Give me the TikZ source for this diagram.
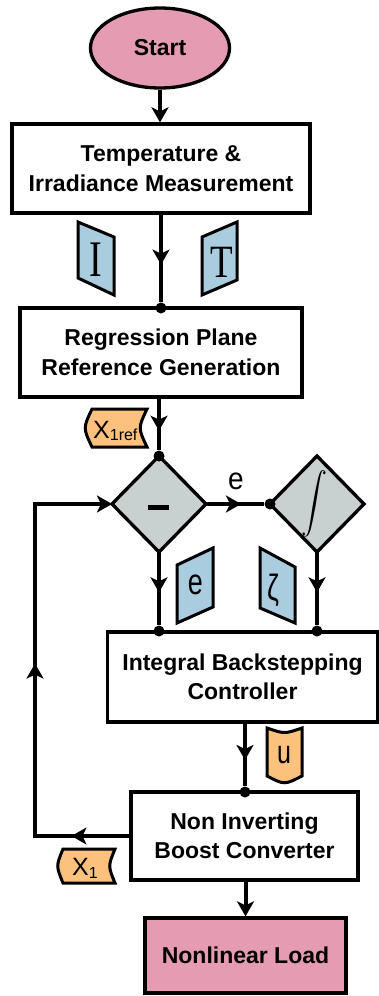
\documentclass[tikz,border=0pt]{standalone}
\usepackage{fontspec}
\setmainfont{Liberation Sans}
\newfontfamily\serifT{Liberation Serif}
\usetikzlibrary{shapes.geometric,arrows.meta,decorations.markings}
\definecolor{pinkc}{HTML}{E59BB1}
\definecolor{bluec}{HTML}{A9CCDE}
\definecolor{orangec}{HTML}{FBC17D}
\definecolor{grayc}{HTML}{C9D0D0}
\tikzset{
  tipA/.tip={Stealth[length=15pt,width=17pt,inset=4pt]},
  box/.style={draw, line width=3.3pt, fill=white, align=center, inner sep=0,
    font=\bfseries\fontsize{23}{29.5}\selectfont},
  conn/.style={line width=4pt},
  midarrow/.style={postaction={decorate,decoration={markings,
    mark=at position #1 with {\arrow{tipA}}}}},
  dotc/.style={circle, fill=black, inner sep=0, minimum size=11pt},
  tagblue/.style={draw, line width=3pt, fill=bluec, line join=miter},
  tagorange/.style={draw, line width=3pt, fill=orangec, line join=miter},
  dia/.style={diamond, draw, fill=grayc, line width=3.3pt, inner sep=0, outer sep=0,
    minimum width=94pt, minimum height=96pt},
}
\begin{document}
\begin{tikzpicture}[x=1pt,y=-1pt]
\useasboundingbox (0,0) rectangle (379,996);
% nodes
\node[ellipse, draw, fill=pinkc, line width=3.3pt, minimum width=139pt, minimum height=80pt,
  inner sep=0, font=\bfseries\fontsize{23}{28}\selectfont] (start) at (160,48) {Start};
\node[box, minimum width=298pt, minimum height=89pt] (box1) at (161,168.5)
  {Temperature \&\\Irradiance Measurement};
\node[box, minimum width=282pt, minimum height=89pt] (box2) at (161,352.5)
  {Regression Plane\\Reference Generation};
\node[dia] (d1) at (159,504) {};
\node[dia] (d2) at (317,504) {};
\node[fill=black, minimum width=21pt, minimum height=5pt, inner sep=0] (minus) at (158,507) {};
\node[inner sep=0] (intg) at (314,504) {\scalebox{2.6}[3]{$\displaystyle\int$}};
\node[box, minimum width=270pt, minimum height=90pt] (box3) at (242.5,677)
  {Integral Backstepping\\Controller};
\node[box, minimum width=227pt, minimum height=88pt] (box4) at (244.5,836)
  {Non Inverting\\Boost Converter};
\node[box, fill=pinkc, minimum width=201pt, minimum height=75pt] (box5) at (245.5,955.5)
  {Nonlinear Load};
% dots
\node[dotc] (dA) at (161,308) {};
\node[dotc] (dB) at (159,456) {};
\node[dotc] (dC) at (270,504) {};
\node[dotc] (dD) at (159,631) {};
\node[dotc] (dE) at (317,631) {};
\node[dotc] (dF) at (245,792) {};
\coordinate (fb1) at (35,836);
\coordinate (fb2) at (35,504);
% connectors
\draw[conn,-tipA] (start.south) -- (start.south |- box1.north);
\draw[conn,midarrow=0.57] (box1.south -| dA) -- (dA);
\draw[conn,midarrow=0.62] (box2.south -| dB) -- (dB);
\draw[conn,midarrow=0.6] (d1.east) -- (dC);
\draw[conn] (dC) -- (d2.west);
\draw[conn,midarrow=0.55] (d1.south) -- (dD);
\draw[conn,midarrow=0.55] (d2.south) -- (dE);
\draw[conn,midarrow=0.58] (box3.south -| dF) -- (dF);
\draw[conn,-tipA] (box4.south -| box5.north) -- (box5.north);
\draw[conn,line join=miter,-tipA,
  postaction={decorate,decoration={markings,
    mark=at position 0.115 with {\arrow{tipA}},
    mark=at position 0.53 with {\arrow{tipA}}}}]
  (box4.west) -- (fb1) -- (fb2) -- (d1.west);
\node[font=\fontsize{28}{28}\selectfont] (elab) at (236,481) {\scalebox{1}[1.1]{e}};
% blue tags
\draw[tagblue] (78,222) -- (114,237) -- (114,295) -- (78,278) -- cycle;
\node (tI) at (95.5,259.5) {\scalebox{1}[1.35]{\serifT\fontsize{38}{38}\selectfont I}};
\draw[tagblue] (202,237) -- (237,222) -- (237,280) -- (202,295) -- cycle;
\node (tT) at (222,262) {\scalebox{1}[1.25]{\serifT\fontsize{37}{37}\selectfont T}};
\draw[tagblue] (177,565) -- (213,548) -- (213,607) -- (177,623) -- cycle;
\node (te) at (195.5,585) {\scalebox{1}[1.35]{\fontsize{27}{27}\selectfont e}};
\draw[tagblue] (260,548) -- (295,567) -- (295,623) -- (260,608) -- cycle;
\node (tz) at (273,590) {\scalebox{1}[1.35]{\fontsize{27}{27}\selectfont ζ}};
% orange tags
\draw[tagorange] (92,409) -- (147,409) .. controls (138,428) .. (147,447) -- (92,447)
  .. controls (83,428) .. (92,409) -- cycle;
\node[anchor=base west, inner sep=0] (tx1ref) at (93,438)
  {\fontsize{25}{25}\selectfont X\raisebox{-2pt}{\fontsize{16}{16}\selectfont 1ref}};
\draw[tagorange] (63,849) -- (115,849) .. controls (108,866) .. (115,883) -- (63,883)
  .. controls (56,866) .. (63,849) -- cycle;
\node[anchor=base west, inner sep=0] (tx1) at (72,875)
  {\fontsize{25}{25}\selectfont X\raisebox{-3pt}{\fontsize{16}{16}\selectfont 1}};
\draw[tagorange] (267,728) .. controls (284.5,734) .. (302,728) -- (302,776)
  .. controls (284.5,785) .. (267,776) -- cycle;
\node (tu) at (284,755) {\scalebox{1}[1.3]{\fontsize{25}{25}\selectfont u}};
\end{tikzpicture}
\end{document}
